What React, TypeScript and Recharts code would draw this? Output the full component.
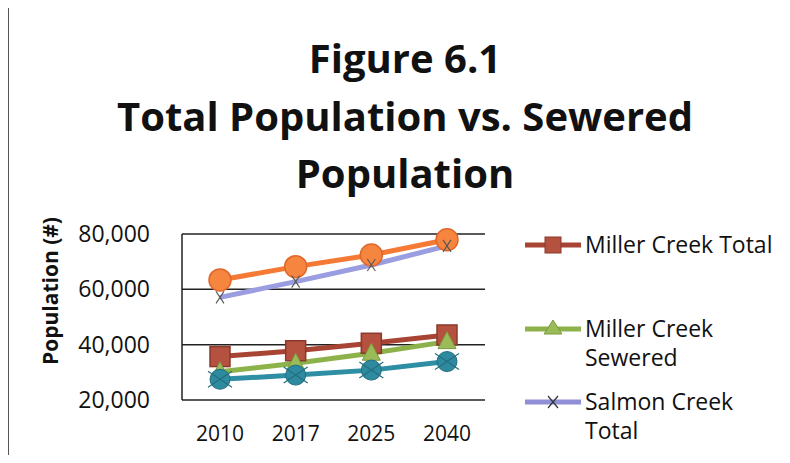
import { LineChart, Line, XAxis, YAxis, CartesianGrid } from "recharts";

// values
const years = ["2010", "2017", "2025", "2040"];
const millerTotal = [35700, 37800, 40500, 43500];
const millerSewered = [30200, 33300, 36900, 41100];
const salmonTotal = [57100, 62800, 68800, 75700];
const salmonSewered = [27500, 29000, 30800, 33900];
const combinedTotal = [63400, 68200, 72400, 77900];
const yTicks = [20000, 40000, 60000, 80000];

const data = years.map((y, i) => ({
  year: y,
  millerTotal: millerTotal[i],
  millerSewered: millerSewered[i],
  salmonTotal: salmonTotal[i],
  salmonSewered: salmonSewered[i],
  combinedTotal: combinedTotal[i],
}));

const FONT = "'Open Sans', Lato, sans-serif";

const SquareDot = (p: any) => (
  <rect key={p.index} x={p.cx - 10} y={p.cy - 10} width={20} height={20} fill="#b4513f" stroke="#8a3a2c" strokeWidth={1.5} />
);
const TriangleDot = (p: any) => (
  <polygon
    key={p.index}
    points={`${p.cx},${p.cy - 10} ${p.cx + 9},${p.cy + 7} ${p.cx - 9},${p.cy + 7}`}
    fill="#9bbb59"
    stroke="#7a9a3c"
    strokeWidth={1}
  />
);
const XDot = (p: any) => (
  <g key={p.index} stroke="#555" strokeWidth={1.1}>
    <line x1={p.cx - 4} y1={p.cy - 6} x2={p.cx + 4} y2={p.cy + 6} />
    <line x1={p.cx + 4} y1={p.cy - 6} x2={p.cx - 4} y2={p.cy + 6} />
  </g>
);
const StarDot = (p: any) => (
  <g key={p.index}>
    <circle cx={p.cx} cy={p.cy} r={10} fill="#2e8a9e" stroke="#236e80" strokeWidth={1} />
    <g stroke="#236e80" strokeWidth={1.2}>
      <line x1={p.cx - 12} y1={p.cy + 8} x2={p.cx + 12} y2={p.cy - 8} />
      <line x1={p.cx + 12} y1={p.cy + 8} x2={p.cx - 12} y2={p.cy - 8} />
    </g>
  </g>
);
const CircleDot = (p: any) => (
  <circle key={p.index} cx={p.cx} cy={p.cy} r={11} fill="#f5853f" stroke="#e0672a" strokeWidth={1.5} />
);

const legendItems = [
  { name: "Miller Creek Total", lines: ["Miller Creek Total"], color: "#a84434", marker: "square" },
  { name: "Miller Creek Sewered", lines: ["Miller Creek", "Sewered"], color: "#8db24a", marker: "triangle" },
  { name: "Salmon Creek Total", lines: ["Salmon Creek", "Total"], color: "#8f8fd6", marker: "x" },
];

const LegendMarker = ({ color, marker }: { color: string; marker: string }) => (
  <svg width={56} height={20} style={{ display: "block" }}>
    <line x1={0} y1={10} x2={56} y2={10} stroke={color} strokeWidth={5} />
    {marker === "square" && <rect x={20} y={2} width={16} height={16} fill="#b4513f" stroke="#8a3a2c" />}
    {marker === "triangle" && <polygon points="28,1 37,15 19,15" fill="#9bbb59" stroke="#7a9a3c" />}
    {marker === "x" && (
      <g stroke="#333" strokeWidth={1.2}>
        <line x1={23} y1={4} x2={33} y2={16} />
        <line x1={33} y1={4} x2={23} y2={16} />
      </g>
    )}
  </svg>
);

const YLabel = () => (
  <text
    x={50}
    y={291}
    transform="rotate(-90, 50, 291)"
    textAnchor="middle"
    dominantBaseline="central"
    fontFamily={FONT}
    fontWeight={700}
    fontSize={21}
    fill="#111"
  >
    Population (#)
  </text>
);

export default function App() {
  return (
    <div
      style={{
        position: "relative",
        width: 790,
        height: 463,
        margin: -8,
        background: "#fff",
        fontFamily: FONT,
        overflow: "hidden",
      }}
    >
      <div style={{ position: "absolute", left: 8, top: 5, width: 782, height: 458, borderTop: "1.5px solid #666", borderLeft: "1.5px solid #555" }} />
      <div
        style={{
          position: "absolute",
          left: 0,
          top: 29,
          width: 810,
          textAlign: "center",
          fontWeight: 700,
          fontSize: 40,
          lineHeight: "57.5px",
          color: "#111",
        }}
      >
        <div>Figure 6.1</div>
        <div>Total Population vs. Sewered</div>
        <div>Population</div>
      </div>
      <div style={{ position: "absolute", left: 0, top: 0 }}>
        <LineChart width={790} height={463} data={data} margin={{ top: 234, right: 305, bottom: 23, left: 10 }}>
          <CartesianGrid vertical={false} horizontal stroke="#222" strokeWidth={1.5} />
          <XAxis
            dataKey="year"
            axisLine={false}
            tickLine={false}
            padding={{ left: 38, right: 38 }}
            height={40}
            tickMargin={20}
            tick={{ fontSize: 21, fill: "#111", fontFamily: FONT }}
          />
          <YAxis
            width={172}
            domain={[20000, 80000]}
            ticks={yTicks}
            axisLine={{ stroke: "#222", strokeWidth: 1.5 }}
            tickLine={false}
            tickMargin={26}
            tickFormatter={(v: number) => v.toLocaleString("en-US")}
            tick={{ fontSize: 23, fill: "#111", fontFamily: FONT }}
            label={<YLabel />}
          />
          <Line dataKey="combinedTotal" name="Total" stroke="#f47a35" strokeWidth={5} dot={CircleDot} isAnimationActive={false} />
          <Line dataKey="salmonTotal" name="Salmon Creek Total" stroke="#9a9de0" strokeWidth={5} dot={XDot} isAnimationActive={false} />
          <Line dataKey="millerTotal" name="Miller Creek Total" stroke="#a84434" strokeWidth={5} dot={SquareDot} isAnimationActive={false} />
          <Line dataKey="millerSewered" name="Miller Creek Sewered" stroke="#8db24a" strokeWidth={5} dot={TriangleDot} isAnimationActive={false} />
          <Line dataKey="salmonSewered" name="Salmon Creek Sewered" stroke="#2e8ea3" strokeWidth={5} dot={StarDot} isAnimationActive={false} />
        </LineChart>
      </div>
      <div style={{ position: "absolute", left: 525, top: 230, fontSize: 23, lineHeight: "29.5px", color: "#111" }}>
        {legendItems.map((it, i) => (
          <div key={it.name} style={{ display: "flex", alignItems: "flex-start", marginBottom: i === 0 ? 54 : 14 }}>
            <div style={{ marginTop: 5 }}>
              <LegendMarker color={it.color} marker={it.marker} />
            </div>
            <div style={{ marginLeft: 4 }}>
              {it.lines.map((l) => (
                <div key={l}>{l}</div>
              ))}
            </div>
          </div>
        ))}
      </div>
    </div>
  );
}
